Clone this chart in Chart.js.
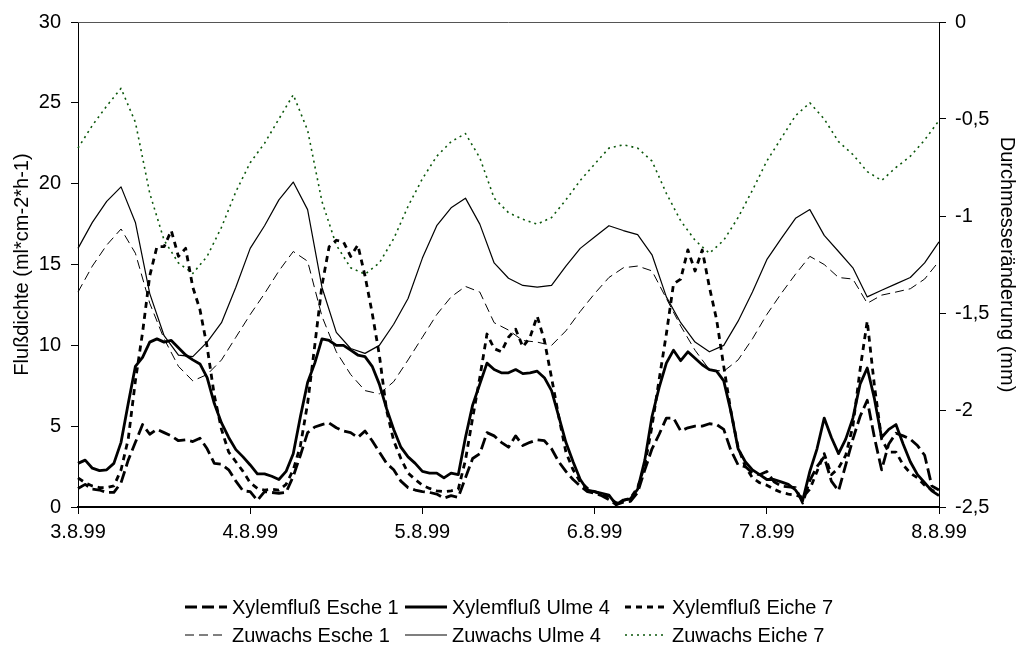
<!DOCTYPE html>
<html><head><meta charset="utf-8">
<script src="https://cdn.jsdelivr.net/npm/chart.js@4.4.1/dist/chart.umd.min.js"></script>
<style>
html,body{margin:0;padding:0;background:#fff;}
#wrap{position:relative;width:1019px;height:646px;font-family:"Liberation Sans",Arial,sans-serif;overflow:hidden;}
#c{position:absolute;left:0;top:0;}
.legItem{position:absolute;height:24px;white-space:nowrap;font-size:20px;line-height:24px;color:#000;}
.legItem svg{position:absolute;left:0;top:7px;}
.legItem span{position:absolute;top:0;}
</style></head><body>
<div id="wrap"><canvas id="c" width="1019" height="646"></canvas><div id="legend"></div></div>
<script>
// ---- data ----
const dayLabels = ['3.8.99','4.8.99','5.8.99','6.8.99','7.8.99','8.8.99'];
const hoursHourly = Array.from({length:121},(_,i)=>i);      // hours since 3.8.99 00:00
const hoursTwoHourly = hoursHourly.filter(h=>h%2===0);

// Xylemfluß (ml*cm-2*h-1), hourly
const xylemEsche1 = [1.15,1.4,1.1,1.05,0.9,0.9,1.5,2.9,4.0,5.1,4.5,4.8,4.6,4.4,4.1,4.15,4.05,4.25,3.6,2.7,2.65,2.3,1.6,1.0,0.95,
 0.4,0.95,0.9,0.85,0.9,1.9,3.2,4.6,4.95,5.1,5.2,4.9,4.7,4.6,4.3,4.7,4.1,3.4,2.7,2.3,1.6,1.2,1.05,0.95,
 0.9,0.8,0.55,0.7,0.6,1.8,3.0,3.3,4.6,4.4,4.0,3.7,4.4,3.8,4.0,4.15,4.1,3.6,2.8,2.2,1.7,1.3,0.95,0.85,
 0.7,0.45,0.15,0.3,0.35,0.9,2.3,3.6,4.5,5.5,5.5,4.7,4.9,5.0,5.0,5.15,5.1,4.8,3.5,2.6,2.5,2.1,2.0,2.2,
 1.56,1.3,1.25,1.2,0.25,1.65,2.5,3.1,1.6,1.0,2.6,4.2,5.6,6.6,4.3,2.3,3.9,4.56,4.4,4.2,3.8,3.2,1.3,1.05];
const xylemUlme4 = [2.7,2.9,2.4,2.25,2.3,2.7,4.0,6.4,8.7,9.25,10.2,10.4,10.2,10.3,9.85,9.4,9.1,8.85,8.0,6.4,5.2,4.3,3.55,3.1,2.6,
 2.05,2.05,1.9,1.7,2.2,3.3,5.6,7.7,8.9,10.4,10.3,10.0,10.0,9.7,9.4,9.3,8.7,7.6,6.1,4.8,3.7,3.1,2.7,2.2,
 2.1,2.1,1.8,2.1,2.0,4.3,6.3,7.6,8.9,8.5,8.3,8.3,8.5,8.25,8.3,8.4,8.0,7.2,5.6,4.0,2.8,1.7,1.05,0.95,
 0.85,0.74,0.15,0.43,0.5,1.1,2.9,5.6,7.4,8.9,9.7,9.05,9.6,9.2,8.8,8.5,8.4,7.8,5.9,3.6,2.8,2.3,2.0,1.7,
 1.7,1.55,1.4,1.05,0.4,2.2,3.6,5.5,4.3,3.3,4.2,5.5,7.6,8.6,6.7,4.3,4.8,5.1,3.9,2.8,2.0,1.5,1.0,0.7];
const xylemEiche7 = [1.8,1.5,1.3,1.2,1.2,1.3,2.3,4.2,7.8,10.8,14.3,16.1,16.1,17.1,15.5,16.0,13.6,12.2,9.9,6.9,4.8,3.4,2.8,2.2,1.5,
 1.15,1.05,1.1,1.05,1.4,2.3,3.8,6.4,10.0,13.7,16.1,16.5,16.4,15.5,16.2,14.3,12.0,9.4,6.0,4.1,3.0,2.1,1.7,1.35,
 1.15,1.0,0.95,1.0,1.1,2.9,5.5,8.0,10.7,9.8,9.6,10.5,11.0,9.9,10.5,11.8,10.3,8.0,5.6,3.4,2.3,1.55,1.15,0.95,
 0.78,0.6,0.25,0.4,0.55,1.2,2.6,5.0,7.9,10.7,13.8,14.1,15.9,14.6,15.9,13.6,11.6,8.7,5.9,3.7,2.5,1.8,1.5,1.35,
 1.1,0.9,0.8,0.74,0.6,1.1,2.2,3.3,2.0,2.4,3.2,5.0,8.5,11.5,7.5,4.2,3.4,3.4,2.6,2.1,1.8,1.35,1.05,0.85];

// Zuwachs / Durchmesseränderung (mm), every 2 hours
const zuwachsEsche1 = [-1.392,-1.258,-1.15,-1.067,-1.192,-1.45,-1.633,-1.775,-1.85,-1.817,-1.742,-1.625,-1.508,
 -1.4,-1.283,-1.183,-1.233,-1.517,-1.7,-1.817,-1.9,-1.917,-1.854,-1.742,-1.625,
 -1.508,-1.417,-1.363,-1.392,-1.55,-1.588,-1.642,-1.65,-1.667,-1.592,-1.492,-1.4,
 -1.317,-1.267,-1.258,-1.283,-1.425,-1.567,-1.692,-1.792,-1.8,-1.742,-1.633,-1.508,
 -1.4,-1.3,-1.208,-1.25,-1.317,-1.325,-1.45,-1.408,-1.392,-1.375,-1.325,-1.233];
const zuwachsUlme4 = [-1.167,-1.033,-0.925,-0.85,-1.033,-1.4,-1.617,-1.717,-1.725,-1.65,-1.55,-1.367,-1.167,
 -1.05,-0.917,-0.825,-0.967,-1.367,-1.6,-1.683,-1.708,-1.667,-1.558,-1.425,-1.217,
 -1.05,-0.958,-0.908,-1.042,-1.242,-1.321,-1.358,-1.367,-1.358,-1.258,-1.167,-1.108,
 -1.05,-1.075,-1.096,-1.2,-1.417,-1.55,-1.65,-1.7,-1.667,-1.542,-1.392,-1.225,
 -1.117,-1.012,-0.967,-1.1,-1.183,-1.267,-1.417,-1.383,-1.35,-1.317,-1.242,-1.133];
const zuwachsEiche7 = [-0.65,-0.533,-0.433,-0.342,-0.517,-0.883,-1.125,-1.242,-1.296,-1.208,-1.058,-0.875,-0.725,
 -0.625,-0.5,-0.375,-0.558,-0.925,-1.15,-1.267,-1.3,-1.242,-1.117,-0.95,-0.808,
 -0.692,-0.617,-0.575,-0.7,-0.908,-0.983,-1.017,-1.042,-1.008,-0.917,-0.817,-0.733,
 -0.65,-0.633,-0.65,-0.717,-0.883,-1.025,-1.125,-1.192,-1.125,-1.008,-0.867,-0.717,
 -0.6,-0.483,-0.417,-0.5,-0.617,-0.683,-0.771,-0.817,-0.75,-0.692,-0.608,-0.508];

const leftTicks = [0,5,10,15,20,25,30];
const rightTicks = [-2.5,-2,-1.5,-1,-0.5,0];

// ---- build chart ----
const pts = (xs, ys) => xs.map((x,i)=>({x, y: ys[i]}));
const series = [
  {label:'Xylemfluß Esche 1', data:pts(hoursHourly,xylemEsche1), axis:'y',  color:'#000', width:2.8, dash:[12,5]},
  {label:'Xylemfluß Ulme 4',  data:pts(hoursHourly,xylemUlme4),  axis:'y',  color:'#000', width:2.8, dash:[]},
  {label:'Xylemfluß Eiche 7', data:pts(hoursHourly,xylemEiche7), axis:'y',  color:'#000', width:2.8, dash:[6,5]},
  {label:'Zuwachs Esche 1',   data:pts(hoursTwoHourly,zuwachsEsche1), axis:'y2', color:'#000', width:1, dash:[9,5]},
  {label:'Zuwachs Ulme 4',    data:pts(hoursTwoHourly,zuwachsUlme4),  axis:'y2', color:'#000', width:1.2, dash:[]},
  {label:'Zuwachs Eiche 7',   data:pts(hoursTwoHourly,zuwachsEiche7), axis:'y2', color:'#0a560a', width:1.6, dash:[2,4]}
];

const FONT = {family:'"Liberation Sans", Arial, sans-serif', size:20};

const topLine = {
  id:'topLine',
  afterDraw(chart){
    const {ctx, chartArea:a} = chart;
    ctx.save();
    ctx.strokeStyle = '#555';
    ctx.lineWidth = 1;
    ctx.beginPath();
    ctx.moveTo(a.left, a.top+0.5);
    ctx.lineTo(a.right, a.top+0.5);
    ctx.stroke();
    ctx.restore();
  }
};

new Chart(document.getElementById('c'), {
  type:'line',
  data:{datasets: series.map(s=>({
    label:s.label, data:s.data, yAxisID:s.axis,
    borderColor:s.color, backgroundColor:s.color, borderWidth:s.width, borderDash:s.dash,
    borderJoinStyle:'round', pointRadius:0, tension:0, fill:false, clip:6
  }))},
  options:{
    responsive:false, animation:false, devicePixelRatio:1,
    layout:{padding:{top:22, left:0, right:0, bottom:0}},
    plugins:{legend:{display:false}, tooltip:{enabled:false}},
    scales:{
      x:{type:'linear', min:0, max:120,
        afterFit(s){ s.height = 139; },
        grid:{drawOnChartArea:false, tickLength:7, color:'#000', lineWidth:1},
        border:{color:'#000', width:2},
        ticks:{stepSize:24, autoSkip:false, maxRotation:0, color:'#000', font:FONT, padding:6,
          callback:(v)=> dayLabels[v/24] ?? ''}
      },
      y:{position:'left', min:0, max:30,
        afterFit(s){ s.width = 78; },
        afterBuildTicks(s){ s.ticks = leftTicks.map(v=>({value:v})); },
        grid:{drawOnChartArea:false, tickLength:7, color:'#000'},
        border:{color:'#000', width:1},
        ticks:{color:'#000', font:FONT, padding:10},
        title:{display:true, text:'Flußdichte (ml*cm-2*h-1)', color:'#000', font:FONT, padding:{top:10,bottom:0}}
      },
      y2:{position:'right', min:-2.5, max:0,
        afterFit(s){ s.width = 80; },
        afterBuildTicks(s){ s.ticks = rightTicks.map(v=>({value:v})); },
        grid:{drawOnChartArea:false, tickLength:7, color:'#000'},
        border:{color:'#000', width:1},
        ticks:{color:'#000', font:FONT, padding:9,
          callback:(v)=> String(Math.round(v*10)/10).replace('.',',')},
        title:{display:true, text:'Durchmesseränderung (mm)', color:'#000', font:FONT, padding:{top:0,bottom:0}}
      }
    }
  },
  plugins:[topLine]
});

// ---- legend (HTML, 3 columns x 2 rows) ----
const legCols = [185, 405, 625];
const legRows = [595, 623];
const leg = document.getElementById('legend');
series.forEach((s,i)=>{
  const d = document.createElement('div');
  d.className = 'legItem';
  d.style.left = legCols[i%3] + 'px';
  d.style.top = legRows[Math.floor(i/3)] + 'px';
  const dash = s.dash.length ? `stroke-dasharray="${s.dash.join(' ')}"` : '';
  d.innerHTML = `<svg width="44" height="10"><line x1="0" y1="5" x2="42" y2="5" stroke="${s.color}" stroke-width="${s.width}" ${dash}/></svg><span style="left:47px">${s.label}</span>`;
  leg.appendChild(d);
});
</script>
</body></html>
